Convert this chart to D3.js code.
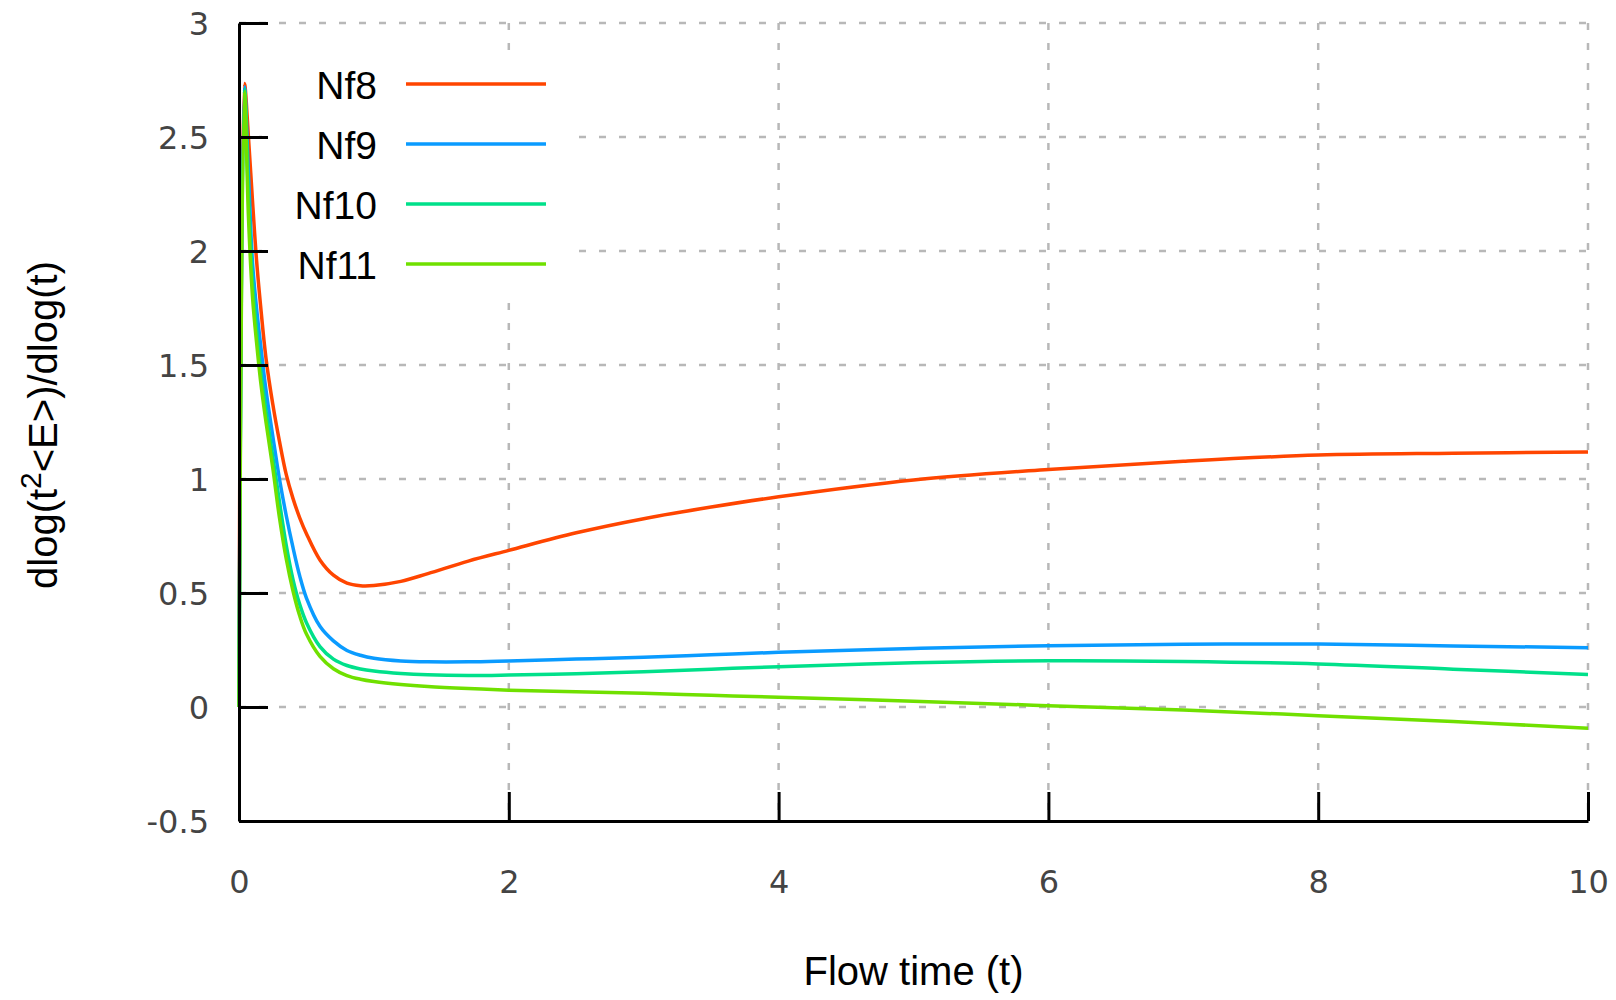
<!DOCTYPE html>
<html>
<head>
<meta charset="utf-8">
<script src="https://cdn.jsdelivr.net/npm/d3@7"></script>
<style>
  body { margin: 0; background: #fff; }
</style>
</head>
<body>
<div id="fig"></div>
<script>
// flow time values (shared by all series)
var flowTime = [0, 0.04, 0.07, 0.1, 0.13, 0.16, 0.2, 0.25, 0.3, 0.35, 0.4, 0.45, 0.5, 0.6, 0.7, 0.8, 0.9, 1.0, 1.2, 1.4, 1.7, 2.0, 2.5, 3.0, 3.5, 4.0, 5.0, 6.0, 7.0, 8.0, 9.0, 10.0];

// dlog(t^2<E>)/dlog(t) for each Nf
var nf8  = [0, 2.735, 2.50, 2.22, 1.96, 1.76, 1.53, 1.33, 1.165, 1.02, 0.915, 0.83, 0.76, 0.645, 0.578, 0.543, 0.532, 0.533, 0.551, 0.585, 0.64, 0.687, 0.764, 0.826, 0.877, 0.922, 0.996, 1.042, 1.078, 1.105, 1.113, 1.118];
var nf9  = [0, 2.72, 2.34, 1.95, 1.75, 1.59, 1.39, 1.19, 1.00, 0.84, 0.70, 0.575, 0.478, 0.354, 0.29, 0.248, 0.227, 0.214, 0.202, 0.198, 0.198, 0.202, 0.210, 0.218, 0.229, 0.240, 0.257, 0.269, 0.275, 0.276, 0.268, 0.260];
var nf10 = [0, 2.71, 2.25, 1.87, 1.66, 1.48, 1.30, 1.10, 0.90, 0.71, 0.56, 0.45, 0.37, 0.265, 0.21, 0.182, 0.167, 0.158, 0.147, 0.141, 0.138, 0.140, 0.146, 0.155, 0.166, 0.177, 0.194, 0.203, 0.200, 0.189, 0.166, 0.143];
var nf11 = [0, 2.70, 2.15, 1.80, 1.60, 1.43, 1.25, 1.05, 0.83, 0.65, 0.51, 0.40, 0.32, 0.222, 0.168, 0.138, 0.122, 0.112, 0.099, 0.090, 0.081, 0.074, 0.067, 0.060, 0.051, 0.043, 0.025, 0.006, -0.013, -0.038, -0.064, -0.093];

var seriesNames = ["Nf8", "Nf9", "Nf10", "Nf11"];
var seriesColors = ["#ff4500", "#0a9bff", "#00e08a", "#70e000"];
var seriesValues = [nf8, nf9, nf10, nf11];

var xTicks = [0, 2, 4, 6, 8, 10];
var yTicks = [-0.5, 0, 0.5, 1, 1.5, 2, 2.5, 3];

// dimensions of the page and the plot area
var width = 1616, height = 1000;
var plotLeft = 239, plotRight = 1588, plotTop = 23, plotBottom = 821;

var svg = d3.select("#fig")
  .append("svg")
  .attr("width", width)
  .attr("height", height);

var x = d3.scaleLinear().domain([0, 10]).range([plotLeft, plotRight]);
var y = d3.scaleLinear().domain([-0.5, 3]).range([plotBottom, plotTop]);

// dashed grid
var grid = svg.append("g");
grid.selectAll(".hgrid")
  .data(yTicks.filter(function(d) { return d > -0.5; }))
  .enter()
  .append("line")
  .attr("x1", plotLeft).attr("x2", plotRight)
  .attr("y1", function(d) { return y(d); })
  .attr("y2", function(d) { return y(d); });
grid.selectAll(".vgrid")
  .data(xTicks.filter(function(d) { return d > 0; }))
  .enter()
  .append("line")
  .attr("x1", function(d) { return x(d); })
  .attr("x2", function(d) { return x(d); })
  .attr("y1", plotTop).attr("y2", plotBottom);
grid.selectAll("line")
  .attr("stroke", "#b8b8b8")
  .attr("stroke-width", 2.5)
  .attr("stroke-dasharray", "7,13");

// legend background hides the grid behind it
svg.append("rect")
  .attr("x", 262).attr("y", 62)
  .attr("width", 312).attr("height", 230)
  .attr("fill", "#fff");

// the curves
var line = d3.line()
  .x(function(d, i) { return x(flowTime[i]); })
  .y(function(d) { return y(d); })
  .curve(d3.curveCatmullRom.alpha(0.5));

svg.selectAll(".curve")
  .data(seriesValues)
  .enter()
  .append("path")
  .attr("d", line)
  .attr("fill", "none")
  .attr("stroke", function(d, i) { return seriesColors[i]; })
  .attr("stroke-width", 3.5)
  .attr("stroke-linejoin", "round");

// axes with inward ticks
var yAxis = svg.append("g")
  .attr("transform", "translate(" + plotLeft + ",0)")
  .call(d3.axisLeft(y).tickValues(yTicks).tickSize(-29).tickSizeOuter(0).tickPadding(30)
    .tickFormat(function(d) { return d; }));

var xAxis = svg.append("g")
  .attr("transform", "translate(0," + plotBottom + ")")
  .call(d3.axisBottom(x).tickValues(xTicks).tickSize(-29).tickSizeOuter(0).tickPadding(49)
    .tickFormat(function(d) { return d; }));

[xAxis, yAxis].forEach(function(a) {
  a.select(".domain").attr("stroke", "#000").attr("stroke-width", 3);
  a.selectAll(".tick line").attr("stroke", "#000").attr("stroke-width", 3);
  a.selectAll(".tick text")
    .attr("fill", "#444")
    .style("font-family", "'DejaVu Sans', sans-serif")
    .style("font-size", "32px");
});
yAxis.selectAll(".tick text").attr("dy", "0.36em");

// legend entries
var legend = svg.selectAll(".legend")
  .data(seriesNames)
  .enter()
  .append("g")
  .attr("transform", function(d, i) { return "translate(0," + (84 + i * 60) + ")"; });

legend.append("text")
  .attr("x", 377)
  .attr("y", 15)
  .attr("text-anchor", "end")
  .style("font-family", "'Liberation Sans', Arial, sans-serif")
  .style("font-size", "39px")
  .text(function(d) { return d; });

legend.append("line")
  .attr("x1", 406).attr("x2", 546)
  .attr("stroke", function(d, i) { return seriesColors[i]; })
  .attr("stroke-width", 3.5);

// axis titles
svg.append("text")
  .attr("x", (plotLeft + plotRight) / 2)
  .attr("y", 985)
  .attr("text-anchor", "middle")
  .style("font-family", "'Liberation Sans', Arial, sans-serif")
  .style("font-size", "40px")
  .text("Flow time (t)");

var ylab = svg.append("text")
  .attr("transform", "translate(57,425) rotate(-90)")
  .attr("text-anchor", "middle")
  .style("font-family", "'Liberation Sans', Arial, sans-serif")
  .style("font-size", "40px");
ylab.append("tspan").text("dlog(t");
ylab.append("tspan").attr("dy", -16).style("font-size", "30px").text("2");
ylab.append("tspan").attr("dy", 16).text("<E>)/dlog(t)");
</script>
</body>
</html>
